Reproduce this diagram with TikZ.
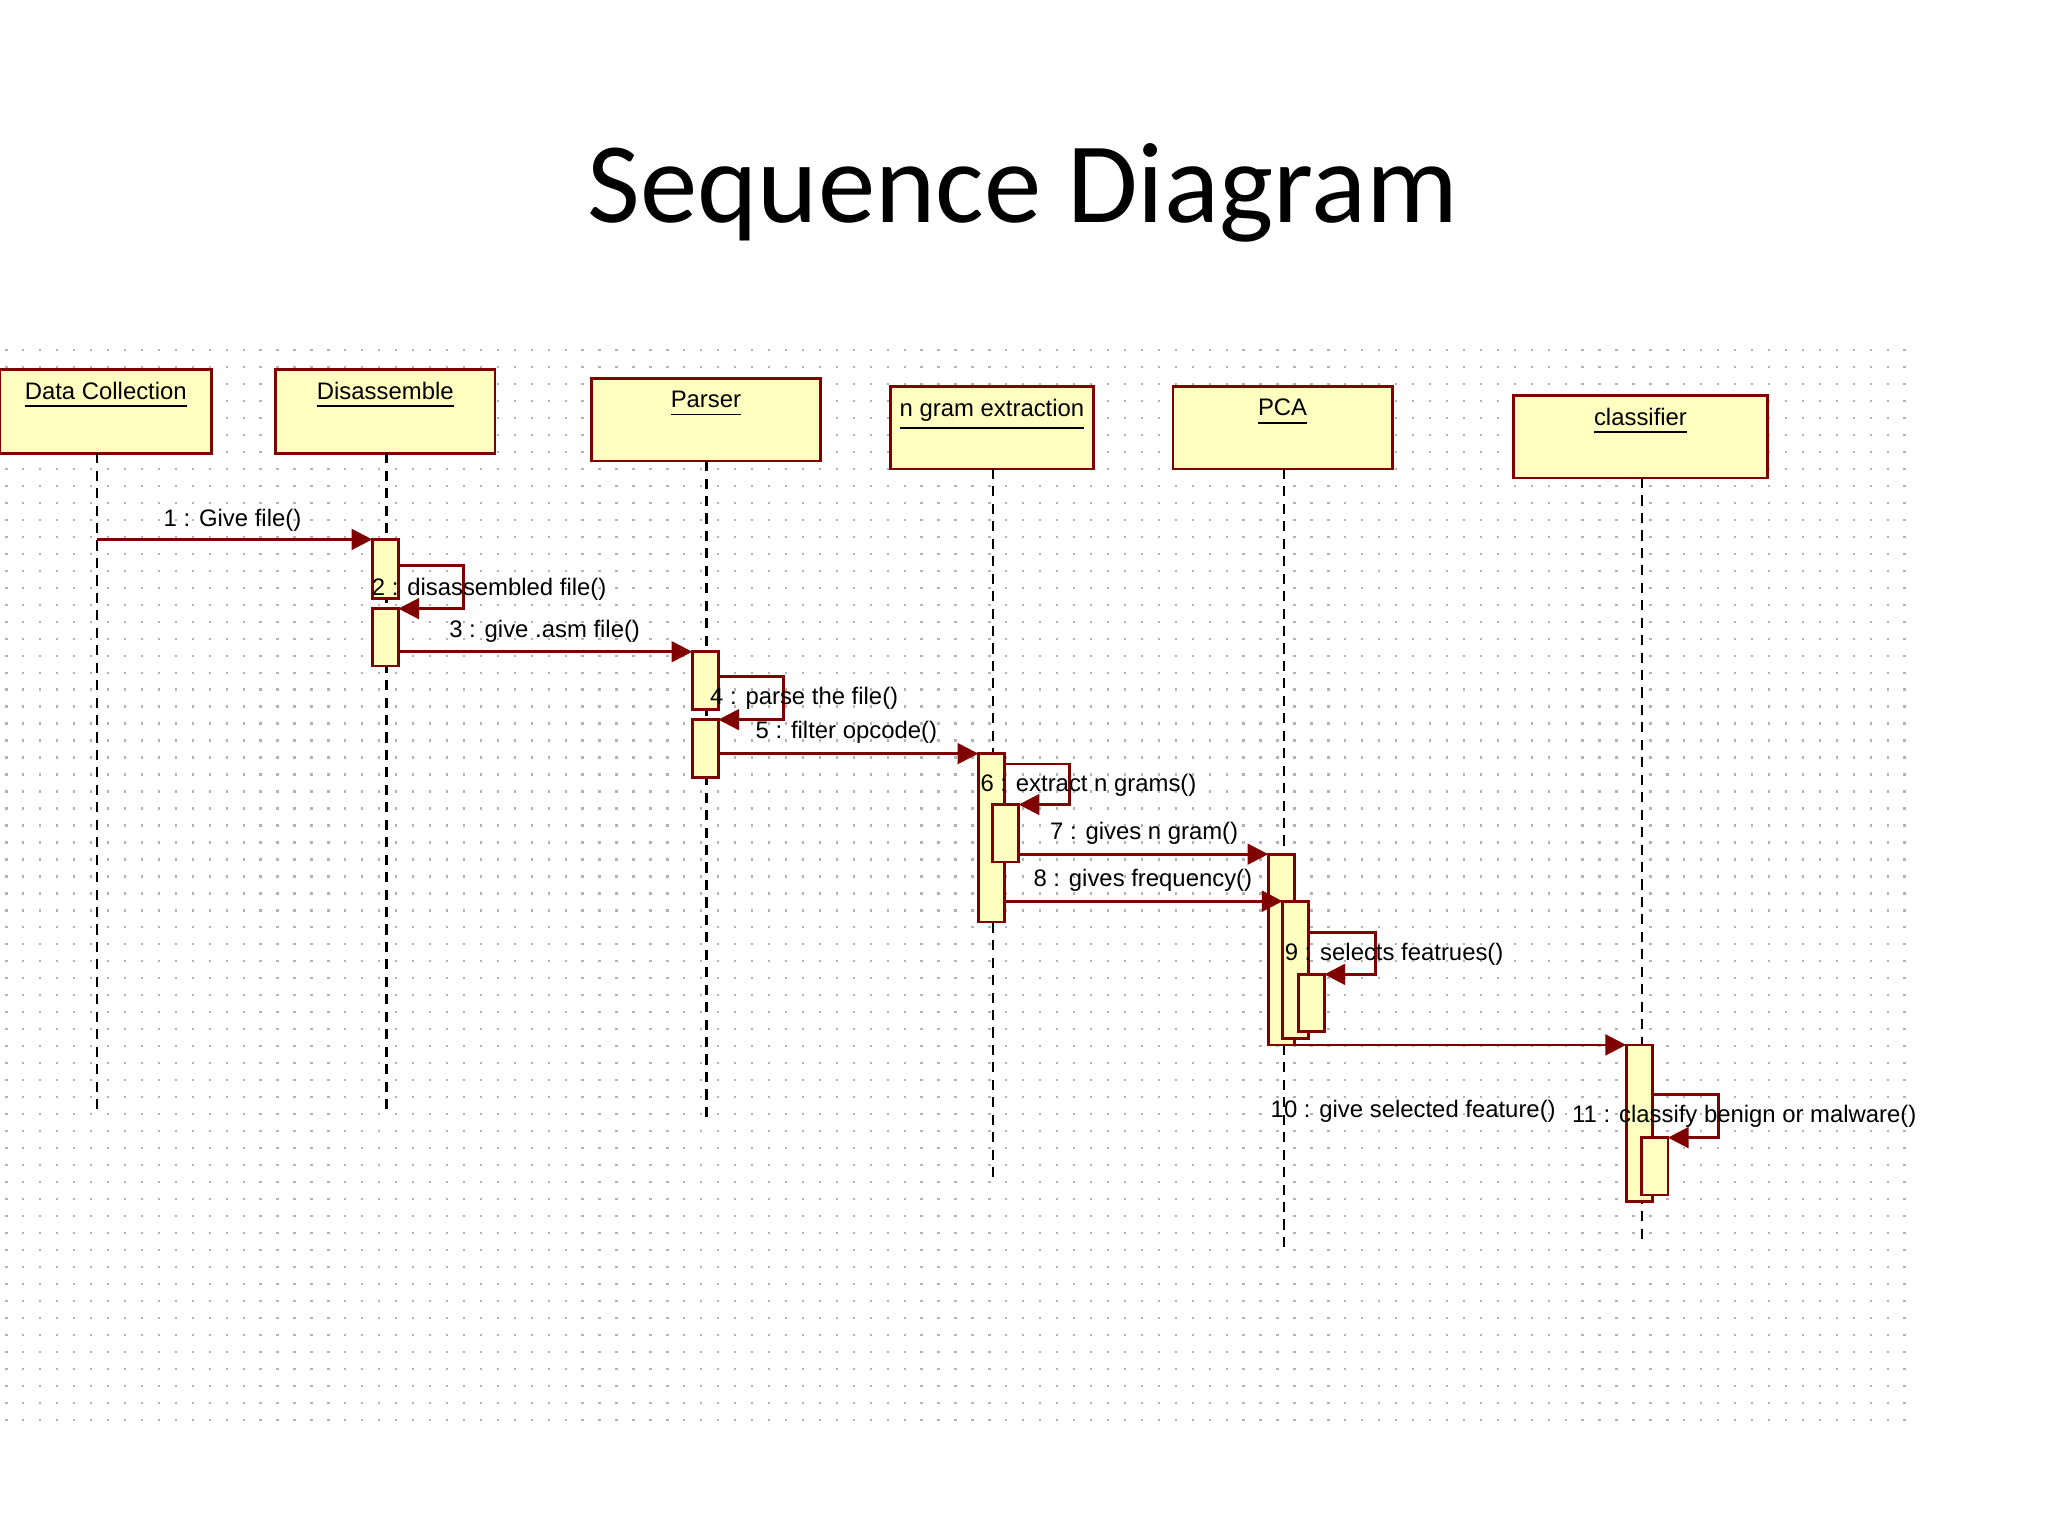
\documentclass[tikz,border=0pt]{standalone}
\usepackage{fontspec}
\setmainfont{Liberation Sans}
\newfontfamily\titlefont{Carlito}
\usetikzlibrary{arrows.meta}
\definecolor{ln}{HTML}{800000}
\definecolor{bx}{HTML}{FFFFC0}
\begin{document}
\begin{tikzpicture}[x=0.01cm,y=-0.01cm,
  obj/.style={draw=ln,fill=bx,line width=0.6pt},
  act/.style={draw=ln,fill=bx,line width=0.6pt},
  life/.style={dash pattern=on 2.2pt off 1.6pt,line width=0.5pt},
  msg/.style={draw=ln,line width=0.6pt,-{Triangle[length=4.5pt,width=4.5pt]}},
  lbl/.style={font=\fontsize{5.2}{6}\selectfont,inner sep=0pt},
  olbl/.style={font=\fontsize{5.2}{6}\selectfont,inner sep=0pt,anchor=north}]
\useasboundingbox (0,0) rectangle (1568,1176);
\fill[white] (0,0) rectangle (1568,1176);
% grid dots
\foreach \r in {0,...,63}{
  \draw[gray!60,line width=0.5pt,dash pattern=on 0.5pt off 3.19pt] (4,268+13*\r) -- (1468,268+13*\r);}
\node[font=\titlefont\fontsize{25}{30}\selectfont,inner sep=0pt] (title) at (783,148) {Sequence Diagram};
% objects
\foreach \n/\a/\b/\t/\bb/\l/\e/\txt in {
 dc/0/162/283/347/74/852/Data Collection,
 ds/211/379/283/347/296/852/Disassemble,
 ps/453/628/290/353/541/860/Parser,
 ng/682/837/296/359/760/905/n gram extraction,
 pc/898/1066/296/359/983/955/PCA,
 cl/1159/1353/303/366/1257/950/classifier}{
  \draw[obj] (\a,\t) rectangle (\b,\bb);
  \node[olbl] (\n) at ({(\a+\b)/2},\t+9) {\underline{\txt}};
  \coordinate (\n-e) at (\l,\e);
  \draw[life] (\l,\bb) -- (\n-e);
}
% activations
\draw[act] (285,413) rectangle (305,458);
\draw[act] (285,466) rectangle (305,510);
\draw[act] (530,499) rectangle (550,543);
\draw[act] (530,551) rectangle (550,595);
\draw[act] (749,577) rectangle (769,706);
\draw[act] (760,616) rectangle (780,660);
\draw[act] (971,654) rectangle (991,800);
\draw[act] (982,690) rectangle (1002,795);
\draw[act] (994,746) rectangle (1014,790);
\draw[act] (1245,800) rectangle (1265,920);
\draw[act] (1257,871) rectangle (1277,915);
% messages
\coordinate (m1a) at (74,413); \coordinate (m1b) at (285,413);
\draw[msg] (m1a) -- (m1b); \node[lbl] at (178,398) {1 : Give file()};
\draw[msg] (305,433) -- (355,433) -- (355,466) -- (305,466);
\node[lbl,anchor=west] at (284,451) {2 : disassembled file()};
\coordinate (m3a) at (305,499); \coordinate (m3b) at (530,499);
\draw[msg] (m3a) -- (m3b); \node[lbl] at (417,483) {3 : give .asm file()};
\draw[msg] (550,518) -- (600,518) -- (600,551) -- (550,551);
\node[lbl,anchor=west] at (543,535) {4 : parse the file()};
\coordinate (m5a) at (550,577); \coordinate (m5b) at (749,577);
\draw[msg] (m5a) -- (m5b); \node[lbl] at (648,561) {5 : filter opcode()};
\draw[msg] (769,585) -- (819,585) -- (819,616) -- (780,616);
\node[lbl,anchor=west] at (750,601) {6 : extract n grams()};
\coordinate (m7a) at (780,654); \coordinate (m7b) at (971,654);
\draw[msg] (m7a) -- (m7b); \node[lbl] at (876,638) {7 : gives n gram()};
\coordinate (m8a) at (769,690); \coordinate (m8b) at (982,690);
\draw[msg] (m8a) -- (m8b); \node[lbl] at (875,674) {8 : gives frequency()};
\draw[msg] (1002,714) -- (1053,714) -- (1053,746) -- (1014,746);
\node[lbl,anchor=west] at (983,731) {9 : selects featrues()};
\coordinate (m10a) at (991,800); \coordinate (m10b) at (1245,800);
\draw[msg] (m10a) -- (m10b); \node[lbl] at (1082,851) {10 : give selected feature()};
\draw[msg] (1265,838) -- (1316,838) -- (1316,871) -- (1277,871);
\node[lbl,anchor=west] at (1203,855) {11 : classify benign or malware()};
\end{tikzpicture}
\end{document}
